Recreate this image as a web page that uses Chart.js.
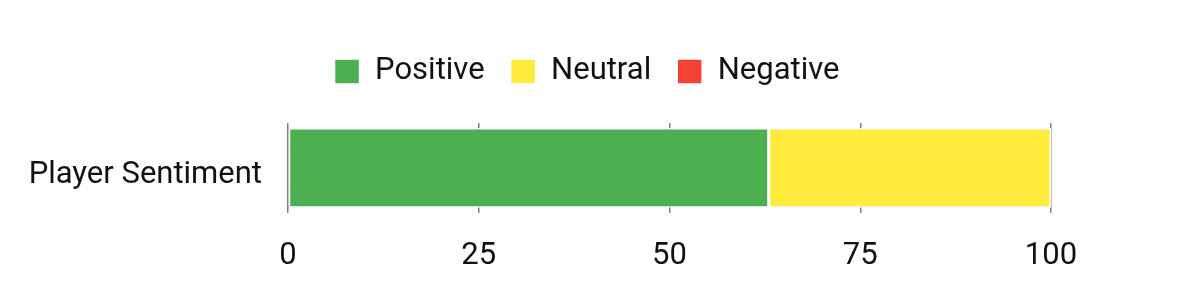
<!DOCTYPE html>
<html>
<head>
<meta charset="utf-8">
<script src="https://cdn.jsdelivr.net/npm/chart.js@4"></script>
<style>
  html, body { margin: 0; padding: 0; background: #fff; }
  #wrap { width: 1200px; height: 300px; }
</style>
</head>
<body>
<div id="wrap"><canvas id="sentimentChart" width="1200" height="300"></canvas></div>
<script>
// Dữ liệu biểu đồ
const categories = ['Player Sentiment'];
const positiveValues = [63];
const neutralValues = [37];
const negativeValues = [0];
const xTickValues = [0, 25, 50, 75, 100];

const FONT = { family: 'Roboto', size: 31 };

// Thêm khoảng trống dưới chú thích (legend) + không cắt nhãn trục y
const layoutTweaks = {
    id: 'layoutTweaks',
    beforeInit(chart) {
        const fit = chart.legend.fit;
        chart.legend.fit = function() {
            fit.bind(chart.legend)();
            this.height += 26;
        };
    },
    afterLayout(chart) {
        chart.scales.y.left = 0;
    }
};

const ctx = document.getElementById('sentimentChart').getContext('2d');

new Chart(ctx, {
    type: 'bar',
    data: {
        labels: categories,
        datasets: [
            { label: 'Positive', data: positiveValues, backgroundColor: '#4CAF50' },
            { label: 'Neutral', data: neutralValues, backgroundColor: '#FFEB3B' },
            { label: 'Negative', data: negativeValues, backgroundColor: '#F44336' }
        ].map(d => Object.assign(d, { borderColor: '#ffffff', borderWidth: 1.5, borderSkipped: false }))
    },
    plugins: [layoutTweaks],
    options: {
        indexAxis: 'y',
        responsive: false,
        animation: false,
        layout: { padding: { top: 30, right: 149, left: 123, bottom: 0 } },
        plugins: {
            legend: {
                position: 'top',
                labels: {
                    font: FONT,
                    color: '#111',
                    boxWidth: 25,
                    boxHeight: 25,
                    padding: 26
                }
            },
            tooltip: { enabled: false }
        },
        datasets: { bar: { categoryPercentage: 0.89, barPercentage: 1 } },
        scales: {
            x: {
                stacked: true,
                min: 0,
                max: 100,
                afterBuildTicks: axis => { axis.ticks = xTickValues.map(v => ({ value: v })); },
                grid: { color: '#808080', lineWidth: 1.5, drawTicks: false },
                border: { display: false },
                ticks: {
                    font: FONT,
                    color: '#111',
                    padding: 25
                }
            },
            y: {
                stacked: true,
                afterFit: scale => { scale.width = 165; },
                grid: { display: false },
                border: { display: false },
                ticks: {
                    font: FONT,
                    color: '#111',
                    padding: 18,
                    labelOffset: 7
                }
            }
        }
    }
});
</script>
</body>
</html>
